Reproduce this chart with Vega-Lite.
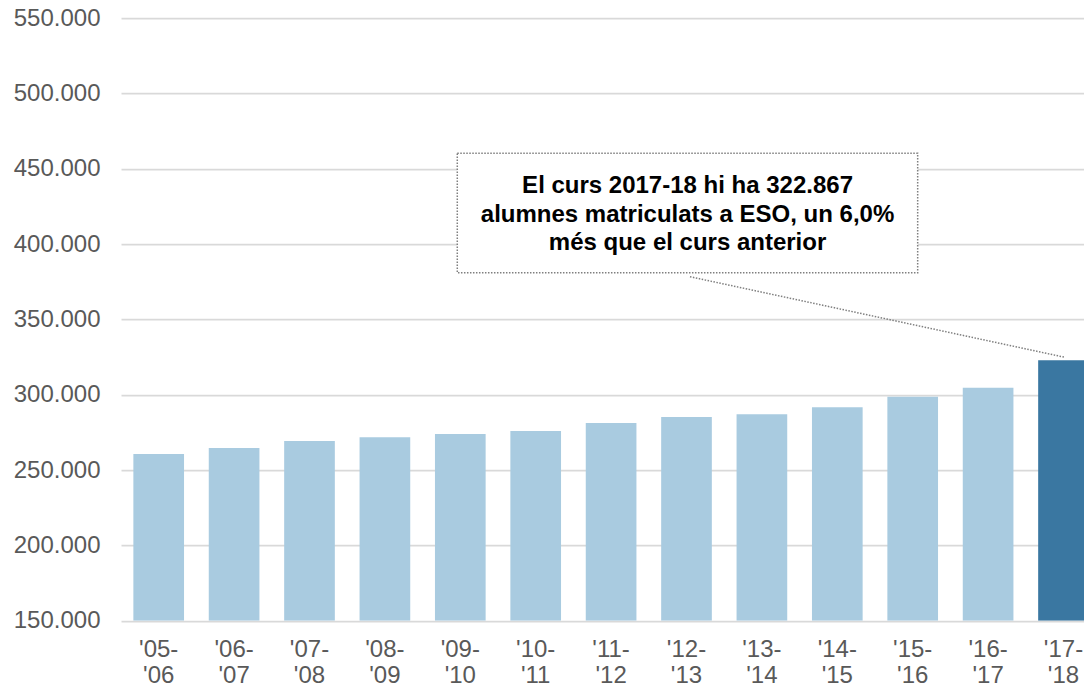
{
  "$schema": "https://vega.github.io/schema/vega-lite/v6.json",
  "autosize": {"type": "none"},
  "padding": {"left": 121, "top": 18, "right": 0, "bottom": 66.3},
  "width": 963,
  "height": 602.7,
  "background": "white",
  "config": {"view": {"stroke": null}, "font": "Liberation Sans"},
  "datasets": {
    "eso": [
      {"curs": "'05-'06", "alumnes": 260600},
      {"curs": "'06-'07", "alumnes": 264600},
      {"curs": "'07-'08", "alumnes": 269300},
      {"curs": "'08-'09", "alumnes": 271700},
      {"curs": "'09-'10", "alumnes": 273900},
      {"curs": "'10-'11", "alumnes": 275900},
      {"curs": "'11-'12", "alumnes": 281200},
      {"curs": "'12-'13", "alumnes": 285200},
      {"curs": "'13-'14", "alumnes": 287000},
      {"curs": "'14-'15", "alumnes": 291600},
      {"curs": "'15-'16", "alumnes": 298700},
      {"curs": "'16-'17", "alumnes": 304600},
      {"curs": "'17-'18", "alumnes": 322867}
    ],
    "box": [{"x1": 4.46, "x2": 10.566, "y1": 380960, "y2": 460200}],
    "connector": [{"x1": 7.546, "y1": 378300, "x2": 12.52, "y2": 324800}],
    "lines": [
      {"t": "El curs 2017-18 hi ha 322.867", "x": 7.514, "y": 433650},
      {"t": "alumnes matriculats a ESO, un 6,0%", "x": 7.514, "y": 414800},
      {"t": "més que el curs anterior", "x": 7.514, "y": 396000}
    ]
  },
  "layer": [
    {
      "data": {"name": "eso"},
      "mark": {"type": "bar", "clip": true},
      "encoding": {
        "x": {
          "field": "curs", "type": "nominal", "sort": null,
          "scale": {"range": [0, 980.2], "paddingInner": 0.328, "paddingOuter": 0.164},
          "axis": {
            "title": null, "labelAngle": 0, "labelFontSize": 24, "labelColor": "#595959",
            "labelFont": "Liberation Sans", "labelLineHeight": 26, "labelPadding": 17,
            "ticks": false, "domain": false, "grid": false, "labelOverlap": false, "labelBound": false,
            "labelExpr": "[slice(datum.value, 0, 4), slice(datum.value, 4)]"
          }
        },
        "y": {
          "field": "alumnes", "type": "quantitative",
          "scale": {"domain": [150000, 550000], "zero": false, "nice": false},
          "axis": {
            "title": null,
            "values": [150000, 200000, 250000, 300000, 350000, 400000, 450000, 500000, 550000],
            "labelExpr": "replace(format(datum.value, ',d'), ',', '.')",
            "labelFontSize": 24, "labelColor": "#595959", "labelFont": "Liberation Sans",
            "labelPadding": 21, "labelFlush": false, "labelOverlap": false, "labelBound": false,
            "ticks": false, "domain": false, "grid": true, "gridColor": "#D9D9D9", "gridWidth": 1.75
          }
        },
        "y2": {"datum": 150000},
        "color": {
          "condition": {"test": "datum.curs === \"'17-'18\"", "value": "#3A77A1"},
          "value": "#A9CBE0"
        }
      }
    },
    {
      "data": {"name": "connector"},
      "mark": {"type": "rule", "stroke": "#7F7F7F", "strokeWidth": 1.5, "strokeDash": [1.5, 1.5]},
      "encoding": {
        "x": {"field": "x1", "type": "quantitative", "scale": {"domain": [0, 13], "range": [0, 980.2], "nice": false, "zero": false}, "axis": null},
        "x2": {"field": "x2"},
        "y": {"field": "y1", "type": "quantitative"},
        "y2": {"field": "y2"}
      }
    },
    {
      "data": {"name": "box"},
      "mark": {"type": "rect", "fill": "white", "stroke": "#7F7F7F", "strokeWidth": 1.5, "strokeDash": [1.5, 1.5]},
      "encoding": {
        "x": {"field": "x1", "type": "quantitative", "scale": {"domain": [0, 13], "range": [0, 980.2], "nice": false, "zero": false}, "axis": null},
        "x2": {"field": "x2"},
        "y": {"field": "y1", "type": "quantitative"},
        "y2": {"field": "y2"}
      }
    },
    {
      "data": {"name": "lines"},
      "mark": {"type": "text", "font": "Liberation Sans", "fontSize": 24, "fontWeight": "bold", "color": "#000000", "align": "center", "baseline": "alphabetic"},
      "encoding": {
        "x": {"field": "x", "type": "quantitative", "scale": {"domain": [0, 13], "range": [0, 980.2], "nice": false, "zero": false}, "axis": null},
        "y": {"field": "y", "type": "quantitative"},
        "text": {"field": "t"}
      }
    }
  ],
  "resolve": {"scale": {"x": "independent"}}
}
